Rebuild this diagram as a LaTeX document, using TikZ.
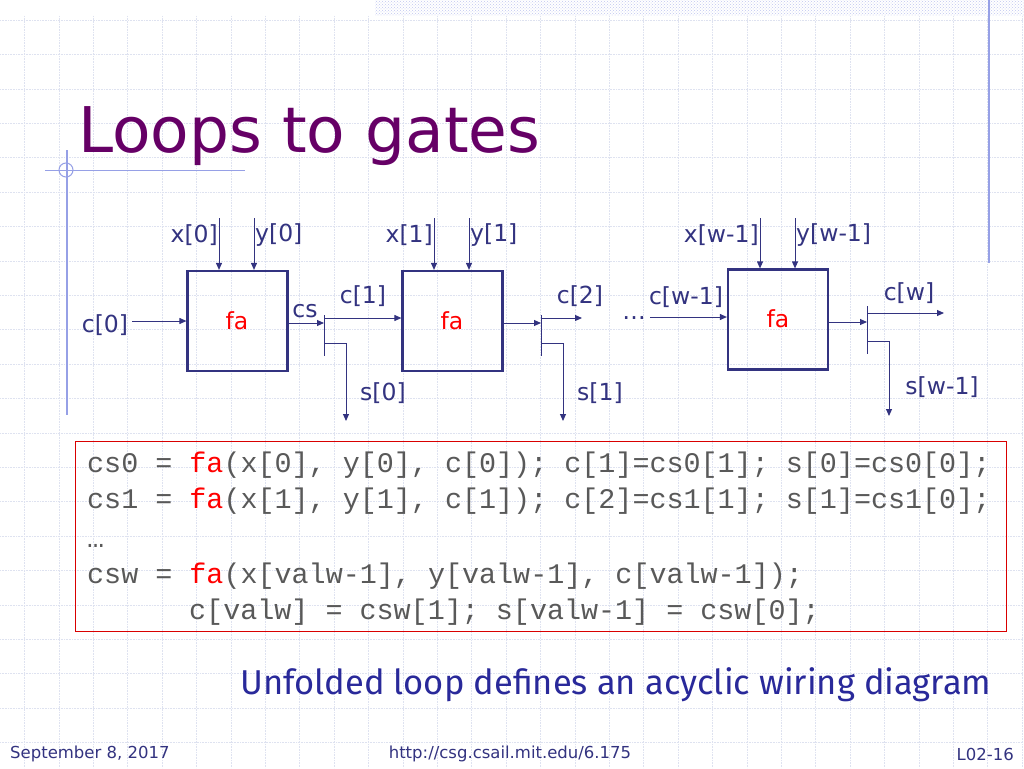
\documentclass[tikz,border=0pt]{standalone}
\usepackage{fontspec}
\setmainfont{DejaVu Sans}
\newfontfamily\codefont{Liberation Mono}
\newfontfamily\comicfont{Fira Sans}
\usetikzlibrary{arrows.meta,patterns}
\definecolor{navy}{RGB}{51,51,128}
\definecolor{titlec}{RGB}{102,0,102}
\definecolor{gridc}{RGB}{222,226,240}
\definecolor{linec}{RGB}{150,160,230}
\tikzset{
  fabox/.style={draw=navy,line width=2.2pt,minimum width=100pt,minimum height=100pt,inner sep=0},
  wire/.style={draw=navy,line width=1pt,-{Triangle[length=7pt,width=6pt]}},
  plain/.style={draw=navy,line width=1pt},
  lab/.style={text=navy,font=\fontsize{23.5}{23.5}\selectfont,inner sep=1pt},
  code/.style={anchor=base west,font=\codefont\fontsize{28.4}{28.4}\selectfont,text=black!65,inner sep=0},
}
\begin{document}
\begin{tikzpicture}[x=1pt,y=-1pt]
\useasboundingbox (0,0) rectangle (1024,768);
\fill[white] (0,0) rectangle (1024,768);
% grid
\foreach \i in {0,...,30} {\draw[gridc,line width=0.6pt,densely dotted] (\i*34.4-10,16)--(\i*34.4-10,768);}
\foreach \j in {0,...,22} {\draw[gridc,line width=0.6pt,densely dotted] (0,\j*34.4+20)--(1024,\j*34.4+20);}
\fill[pattern=crosshatch dots,pattern color=linec!60] (375,0) rectangle (1024,16);
\draw[linec,line width=1.2pt] (989,0)--(989,263);
\draw[linec,line width=1.2pt] (67,150)--(67,415);
\draw[linec,line width=1pt] (45,170)--(245,170);
\node[circle,draw=linec,line width=1pt,minimum size=14pt,inner sep=0] (circ) at (66,170) {};
\node[anchor=base west,text=titlec,font=\fontsize{63}{63}\selectfont,inner sep=0] (title) at (78,152) {Loops to gates};
% boxes
\node[fabox] (b1) at (237.5,321) {}; \node[text=red,font=\fontsize{23.5}{23.5}\selectfont] (f1) at (237,321) {fa};
\node[fabox] (b2) at (452.5,321) {}; \node[text=red,font=\fontsize{23.5}{23.5}\selectfont] (f2) at (452,321) {fa};
\node[fabox] (b3) at (778,319.5) {}; \node[text=red,font=\fontsize{23.5}{23.5}\selectfont] (f3) at (778,319) {fa};
% inputs
\foreach \b/\xa/\ya/\xl/\yl in {b1/219/254/x[0]/y[0], b2/434/469/x[1]/y[1], b3/760/795/x[w-1]/y[w-1]} {
  \coordinate (xa\b) at (\xa,218); \coordinate (ya\b) at (\ya,218);
  \draw[wire] (xa\b) -- (\b.north -| xa\b);
  \draw[wire] (ya\b) -- (\b.north -| ya\b);
  \node[lab,anchor=east] at ([yshift=-17pt]xa\b) {\xl};
  \node[lab,anchor=west] at ([yshift=-17pt]ya\b) {\yl};
}
% c[0]
\node[lab] (c0) at (105,325) {c[0]};
\draw[wire] (c0.east) ++(3,-4) coordinate (c0s) -- (c0s -| b1.west);
% splitter 1
\draw[plain] (324,315)--(324,356);
\draw[wire] (288,323) -- (324,323);
\draw[wire] (324,318) -- (b2.west |- 0,318);
\draw[wire] (324,343) -| (346,421);
\node[lab] (cs) at (305,311) {cs};
\node[lab] (c1) at (363,296) {c[1]};
\node[lab] (s0) at (383,393) {s[0]};
% splitter 2
\draw[plain] (541,315)--(541,356);
\draw[wire] (503,323) -- (541,323);
\draw[wire] (541,318) -- (582,318);
\draw[wire] (541,343) -| (563,421);
\node[lab] (c2) at (580,296) {c[2]};
\node[lab] (s1) at (600,393) {s[1]};
\node[lab] (dots) at (634,318) {…};
\node[lab] (cw1) at (686,297) {c[w-1]};
\draw[wire] (650,317) -- (b3.west |- 0,317);
% splitter 3
\draw[plain] (867,306)--(867,354);
\draw[wire] (828,322) -- (867,322);
\draw[wire] (867,313) -- (944,313);
\draw[wire] (867,341) -| (889,416);
\node[lab] (cw) at (909,293) {c[w]};
\node[lab] (sw) at (942,387) {s[w-1]};
% code box
\draw[red!85!black,line width=1pt] (75,441) rectangle (1006,631);
\node[code] (l1) at (87,472) {cs0 = \textcolor{red}{fa}(x[0], y[0], c[0]); c[1]=cs0[1]; s[0]=cs0[0];};
\node[code] (l2) at (87,508) {cs1 = \textcolor{red}{fa}(x[1], y[1], c[1]); c[2]=cs1[1]; s[1]=cs1[0];};
\node[code] (l3) at (87,547) {…};
\node[code] (l4) at (87,583) {csw = \textcolor{red}{fa}(x[valw-1], y[valw-1], c[valw-1]);};
\node[code] (l5) at (189,619) {c[valw] = csw[1]; s[valw-1] = csw[0];};
\node[anchor=base west,text=navy!80!blue,font=\comicfont\fontsize{34.5}{34.5}\selectfont,inner sep=0] (sub) at (240,694) {Unfolded loop defines an acyclic wiring diagram};
% footer
\node[anchor=base west,text=navy,font=\fontsize{16.5}{16.5}\selectfont,inner sep=0] (date) at (10,758) {September 8, 2017};
\node[anchor=base,text=navy,font=\fontsize{16.5}{16.5}\selectfont,inner sep=0] (url) at (510,758) {http://csg.csail.mit.edu/6.175};
\node[anchor=base east,text=navy,font=\fontsize{16.5}{16.5}\selectfont,inner sep=0] (pg) at (1014,760) {L02-16};
\end{tikzpicture}
\end{document}
